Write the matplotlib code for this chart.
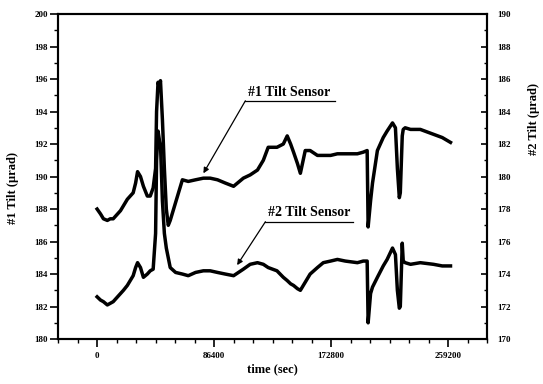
import numpy as np
import matplotlib
matplotlib.use("Agg")
import matplotlib.pyplot as plt
from matplotlib.ticker import MultipleLocator

plt.rcParams['font.family'] = ['Liberation Serif', 'DejaVu Serif']
plt.rcParams['font.weight'] = 'bold'

# time of each reading, in hours from start (converted to seconds below)
hours = [0, 0.7, 1.3, 2.1, 2.7, 3.3, 4.2, 4.8, 5.4, 6.2, 6.8, 7.4, 7.9, 8.3, 8.9,
         9.5, 10.3, 10.9, 11.5, 12.0, 12.2, 12.5, 12.8, 13.0, 13.4, 13.8, 14.2,
         14.6, 15.0, 16.1, 17.5, 18.7, 20.2, 21.8, 23.2, 24.7, 26.3, 28.0, 30.0,
         31.4, 32.9, 34.1, 35.1, 36.9, 38.2, 39.0, 39.7, 40.3, 41.1, 41.7, 42.7,
         43.7, 45.2, 46.4, 47.9, 49.3, 50.9, 53.4, 54.6, 55.4, 55.6, 56.1, 56.5,
         57.5, 58.7, 59.5, 60.6, 61.2, 61.6, 62.0, 62.2, 62.6, 62.8, 63.2, 64.3,
         66.3, 69.0, 70.8, 72.5]

# #1 tilt sensor (left axis, urad)
tilt1 = [188.0, 187.7, 187.4, 187.3, 187.4, 187.4, 187.7, 187.9, 188.2, 188.6,
         188.8, 189.0, 189.6, 190.3, 190.0, 189.4, 188.8, 188.8, 189.3, 190.5,
         194.0, 195.8, 195.5, 195.9, 193.5, 190.5, 188.0, 187.0, 187.3, 188.4,
         189.8, 189.7, 189.8, 189.9, 189.9, 189.8, 189.6, 189.4, 189.9, 190.1,
         190.4, 191.0, 191.8, 191.8, 192.0, 192.5, 192.0, 191.5, 190.8, 190.2,
         191.6, 191.6, 191.3, 191.3, 191.3, 191.4, 191.4, 191.4, 191.5, 191.6,
         186.9, 188.5, 189.6, 191.6, 192.4, 192.8, 193.3, 193.0, 190.5, 188.7,
         189.0, 192.5, 192.9, 193.0, 192.9, 192.9, 192.6, 192.4, 192.1]

# #2 tilt sensor (right axis, urad)
tilt2 = [172.6, 172.4, 172.3, 172.1, 172.2, 172.3, 172.6, 172.8, 173.0, 173.3,
         173.6, 173.9, 174.4, 174.7, 174.4, 173.8, 174.0, 174.2, 174.3, 176.5,
         181.0, 182.8, 182.2, 182.0, 178.5, 176.5, 175.6, 175.0, 174.4, 174.1,
         174.0, 173.9, 174.1, 174.2, 174.2, 174.1, 174.0, 173.9, 174.3, 174.6,
         174.7, 174.6, 174.4, 174.2, 173.8, 173.6, 173.4, 173.3, 173.1, 173.0,
         173.5, 174.0, 174.4, 174.7, 174.8, 174.9, 174.8, 174.7, 174.8, 174.8,
         171.0, 172.8, 173.2, 173.8, 174.5, 174.9, 175.6, 175.2, 173.0, 171.9,
         172.0, 175.9, 174.8, 174.7, 174.6, 174.7, 174.6, 174.5, 174.5]

xticks = [0, 86400, 172800, 259200]

t = np.array(hours) * 3600

fig, ax = plt.subplots(figsize=(5.43, 3.84), dpi=100)
fig.subplots_adjust(left=0.107, right=0.897, bottom=0.117, top=0.9635)
ax2 = ax.twinx()

ax.plot(t, tilt1, color='black', lw=2.5)
ax2.plot(t, tilt2, color='black', lw=2.5)

ax.set_xlim(-28800, 288000)
ax.set_ylim(180, 200)
ax2.set_ylim(170, 190)

ax.set_xticks(xticks)
ax.set_xticklabels([str(v) for v in xticks])
ax.xaxis.set_minor_locator(MultipleLocator(14400))
ax.yaxis.set_major_locator(MultipleLocator(2))
ax.yaxis.set_minor_locator(MultipleLocator(1))
ax2.yaxis.set_major_locator(MultipleLocator(2))
ax2.yaxis.set_minor_locator(MultipleLocator(1))

ax.tick_params(axis='both', which='major', direction='out', length=5.5, width=1.2,
               labelsize=6.5, pad=2)
ax.tick_params(axis='both', which='minor', direction='out', length=3, width=1.0)
ax.tick_params(axis='x', which='major', pad=4)
ax2.tick_params(axis='y', which='major', direction='in', length=4.5, width=1.2,
                labelsize=6.5, pad=7)
ax2.tick_params(axis='y', which='minor', direction='in', length=2.5, width=1.0)

for a in (ax, ax2):
    for s in a.spines.values():
        s.set_linewidth(1.5)

ax.set_xlabel('time (sec)', fontsize=9, fontweight='bold', labelpad=2)
ax.set_ylabel('#1 Tilt (\u03bcrad)', fontsize=9, fontweight='bold')
ax2.set_ylabel('#2 Tilt (\u03bcrad)', fontsize=9, fontweight='bold', rotation=90)
ax.yaxis.set_label_coords(-0.09, 0.465)
ax2.yaxis.set_label_coords(1.095, 0.677)

# labels with underline and arrow
arrow = dict(arrowstyle='-|>', color='black', lw=0.9, mutation_scale=8,
             shrinkA=0, shrinkB=0)
ax.annotate('', xy=(78500, 190.2), xytext=(109500, 194.66), arrowprops=arrow)
ax.plot([109500, 176000], [194.66, 194.66], color='black', lw=0.9)
ax.text(111500, 194.8, '#1 Tilt Sensor', fontsize=10, fontweight='bold',
        ha='left', va='bottom')

ax.annotate('', xy=(103400, 184.55), xytext=(124300, 187.22), arrowprops=arrow)
ax.plot([124300, 189300], [187.22, 187.22], color='black', lw=0.9)
ax.text(126300, 187.36, '#2 Tilt Sensor', fontsize=10, fontweight='bold',
        ha='left', va='bottom')

fig.savefig('out.png', dpi=100)
